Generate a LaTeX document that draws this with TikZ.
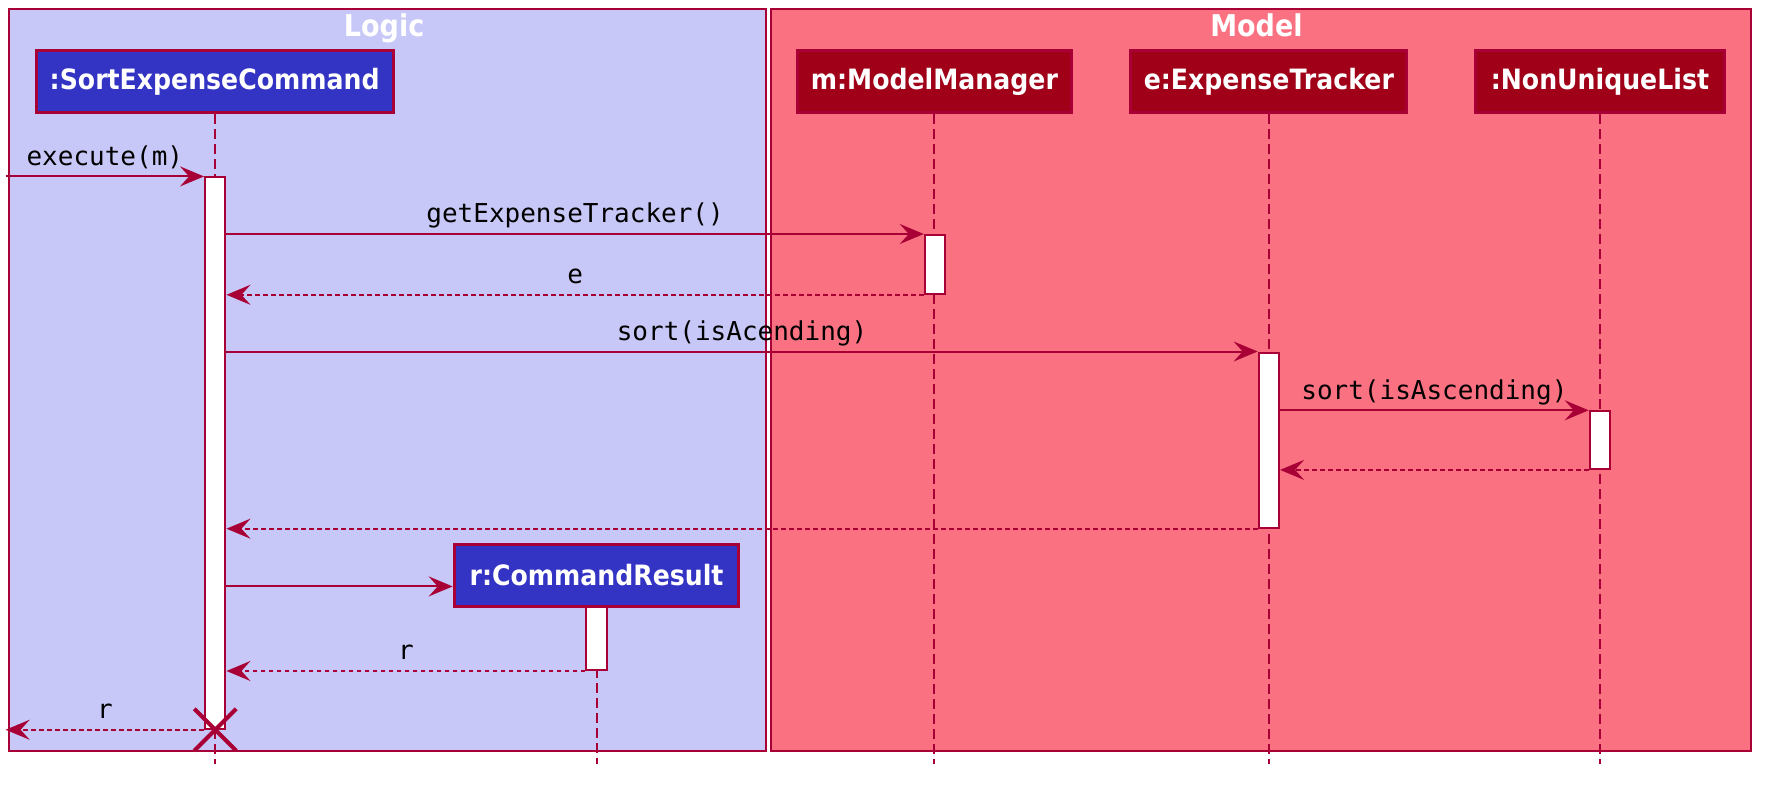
\documentclass[tikz,border=0pt]{standalone}
\usepackage{fontspec}
\newfontfamily\boxf[FakeStretch=0.9]{DejaVu Sans Bold}
\newfontfamily\monof{DejaVu Sans Mono}
\usetikzlibrary{arrows.meta,shapes.misc}
\definecolor{bord}{HTML}{A80036}
\definecolor{logicbg}{HTML}{C8C8F8}
\definecolor{modelbg}{HTML}{FA7282}
\definecolor{bluebox}{HTML}{3333C4}
\definecolor{redbox}{HTML}{A00018}
\begin{document}
\begin{tikzpicture}[x=0.565pt,y=-0.565pt,
 frame/.style={draw=bord, line width=1pt},
 title/.style={text=white, anchor=base, inner sep=0pt, font=\boxf\fontsize{15}{18}\selectfont},
 part/.style={draw=bord, line width=1.5pt, text=white, font=\boxf\fontsize{14}{17}\selectfont, minimum height=31pt, inner sep=0pt},
 life/.style={draw=bord, line width=1pt, dash pattern=on 5pt off 2.5pt},
 act/.style={draw=bord, fill=white, line width=1pt, minimum width=10.2pt, inner sep=0pt},
 msg/.style={draw=bord, line width=1pt, -{Stealth[length=12pt,width=10pt,inset=4.5pt]}},
 ret/.style={msg, dash pattern=on 2.3pt off 1.7pt},
 lbl/.style={font=\monof\fontsize{13}{15}\selectfont, anchor=base, yshift=5.6pt, inner sep=0pt},
]
\useasboundingbox (0,0) rectangle (1563,694);
% frames
\draw[frame, fill=logicbg] (8,8) rectangle (678,665);
\draw[frame, fill=modelbg] (682,8) rectangle (1550,665);
\node[title] (tlogic) at (340,32) {Logic};
\node[title] (tmodel) at (1112,32) {Model};
% participants
\node[part, fill=bluebox, minimum width=178.5pt] (sec) at (190,72.5) {:SortExpenseCommand};
\node[part, fill=redbox, minimum width=136.7pt] (mm) at (827,72.5) {m:ModelManager};
\node[part, fill=redbox, minimum width=137.9pt] (et) at (1123,72.5) {e:ExpenseTracker};
\node[part, fill=redbox, minimum width=124.3pt] (nul) at (1416,72.5) {:NonUniqueList};
\coordinate (bot) at (0,676);
% lifelines
\draw[life] (sec.south) -- (sec.south |- bot);
\draw[life] (mm.south) -- (mm.south |- bot);
\draw[life] (et.south) -- (et.south |- bot);
\draw[life] (nul.south) -- (nul.south |- bot);
\node[part, fill=bluebox, minimum width=142.4pt] (cr) at (528,509) {r:CommandResult};
\draw[life] (cr.south) -- (cr.south |- bot);
% activations
\node[act, minimum height=275.7pt] (a1) at (190.5,401) {};
\node[act, minimum height=29.4pt] (a2) at (827.5,234) {};
\node[act, minimum height=87.6pt] (a3) at (1123,389.5) {};
\node[act, minimum height=28.8pt] (a4) at (1416,389.5) {};
\node[act, minimum height=31.6pt] (a5) at (528,565) {};
% messages
\coordinate (in) at (5,0);
\draw[msg] (in |- a1.north west) -- node[lbl]{execute(m)} (a1.north west);
\draw[msg] (a1.east |- a2.north) -- node[lbl]{getExpenseTracker()} (a2.north west);
\draw[ret] (a2.south west) -- node[lbl]{e} (a1.east |- a2.south);
\draw[msg] (a1.east |- a3.north) -- node[lbl]{sort(isAcending)} (a3.north west);
\draw[msg] (a3.east |- a4.north) -- node[lbl]{sort(isAscending)} (a4.north west);
\draw[ret] (a4.south west) -- (a3.east |- a4.south);
\draw[ret] (a3.south west) -- (a1.east |- a3.south);
\coordinate (c8) at (0,519);
\draw[msg] (a1.east |- c8) -- (cr.west |- c8);
\draw[ret] (a5.south west) -- node[lbl]{r} (a1.east |- a5.south);
\coordinate (out) at (5,0);
\draw[ret] (a1.south west) -- node[lbl]{r} (out |- a1.south west);
\node[cross out, draw=bord, line width=2pt, minimum size=19pt, inner sep=0pt] (kill) at (a1.south) {};
\end{tikzpicture}
\end{document}
